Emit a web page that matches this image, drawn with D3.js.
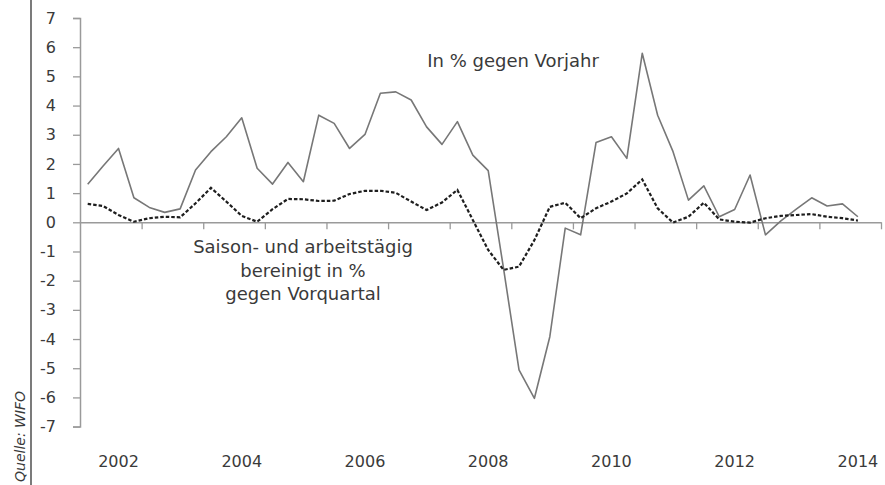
<!DOCTYPE html>
<html>
<head>
<meta charset="utf-8">
<script src="https://cdn.jsdelivr.net/npm/d3@7"></script>
<style>
  body { margin: 0; background: #fff; }
  svg { display: block; }
  text { font-family: "DejaVu Sans", sans-serif; fill: #3a3a3a; }
</style>
</head>
<body>
<div id="output"></div>
<script>
(function () {

"use strict";

// quarters 2002 Q1 .. 2014 Q3
var startYear = 2002
var years = d3.range(2002, 2015)
var yearLabels = [ "2002", "2004", "2006", "2008", "2010", "2012", "2014" ]
var yTicks = [ 7, 6, 5, 4, 3, 2, 1, 0, -1, -2, -3, -4, -5, -6, -7 ]

// In % gegen Vorjahr
var vorjahr = [
  1.30, 1.93, 2.53, 0.84,
  0.51, 0.34, 0.46, 1.79,
  2.42, 2.93, 3.58, 1.85,
  1.31, 2.05, 1.39, 3.67,
  3.39, 2.53, 3.01, 4.42,
  4.47, 4.19, 3.27, 2.67,
  3.45, 2.30, 1.77, -1.60,
  -5.06, -6.03, -3.92, -0.20,
  -0.43, 2.73, 2.93, 2.19,
  5.79, 3.67, 2.42, 0.76,
  1.25, 0.19, 0.44, 1.62,
  -0.43, 0.05, 0.45, 0.84,
  0.56, 0.63, 0.19
]

// Saison- und arbeitstaegig bereinigt in % gegen Vorquartal
var vorquartal = [
  0.63, 0.56, 0.25, 0.02,
  0.14, 0.19, 0.17, 0.65,
  1.18, 0.71, 0.22, 0.02,
  0.45, 0.80, 0.79, 0.73,
  0.74, 0.97, 1.08, 1.08,
  1.01, 0.71, 0.42, 0.68,
  1.11, 0.08, -0.95, -1.63,
  -1.52, -0.61, 0.53, 0.67,
  0.14, 0.48, 0.71, 0.99,
  1.47, 0.48, -0.01, 0.19,
  0.67, 0.10, 0.02, -0.01,
  0.14, 0.22, 0.25, 0.28,
  0.19, 0.14, 0.06
]

var width = 885
  , height = 485
  , left = 80
  , right = 881
  , top = 18
  , bottom = 426.6

var svg = d3.select("#output").append("svg").attr("width", width).attr("height", height)

var x = d3.scaleLinear().domain([0, years.length * 4]).range([left, right])
var y = d3.scaleLinear().domain([-7, 7]).range([bottom, top])

// source line on the left
svg.append("line")
  .attr("x1", 31).attr("x2", 31).attr("y1", 0).attr("y2", height)
  .style("stroke", "#333").style("stroke-width", 1.3)

svg.append("text")
  .attr("transform", "translate(25," + (height - 3) + ") rotate(-90)")
  .style("font-size", "14px").style("font-style", "italic")
  .text("Quelle: WIFO")

// y axis
var yAxis = d3.axisLeft(y).tickValues(yTicks).tickSize(7).tickPadding(17).tickFormat(d3.format("d"))
var gy = svg.append("g").attr("transform", "translate(" + left + ",0)").call(yAxis)
gy.select(".domain").style("stroke", "#9a9a9a").style("stroke-width", 1.5)
gy.selectAll(".tick line").style("stroke", "#9a9a9a").style("stroke-width", 1.3)
gy.selectAll(".tick text").style("font-size", "16px").style("font-family", "DejaVu Sans, sans-serif").style("fill", "#3a3a3a")
  .text(function (d) { return d < 0 ? "-" + Math.abs(d) : d })

// zero line with year ticks
var gx = svg.append("g").attr("transform", "translate(0," + y(0) + ")")
  .call(d3.axisBottom(x).tickValues(d3.range(4, years.length * 4 + 1, 4)).tickSize(7).tickSizeOuter(0).tickFormat(""))
gx.select(".domain").style("stroke", "#9a9a9a").style("stroke-width", 1.5)
gx.selectAll(".tick line").style("stroke", "#9a9a9a").style("stroke-width", 1.3)

// year labels
svg.selectAll("text.year").data(yearLabels).enter().append("text")
  .attr("class", "year")
  .attr("x", function (d) { return x((+d - startYear) * 4 + 2.5) })
  .attr("y", 467)
  .attr("text-anchor", "middle")
  .style("font-size", "16px")
  .text(function (d) { return d })

var line = d3.line()
  .x(function (d, i) { return x(i + 0.5) })
  .y(function (d) { return y(d) })

svg.append("path").datum(vorjahr)
  .attr("d", line)
  .style("fill", "none").style("stroke", "#777").style("stroke-width", 1.6)
  .style("stroke-linejoin", "round")

svg.append("path").datum(vorquartal)
  .attr("d", line)
  .style("fill", "none").style("stroke", "#1e1e1e").style("stroke-width", 2.2)
  .style("stroke-dasharray", "3.5,2")

// annotations
svg.append("text")
  .attr("x", 513).attr("y", 67)
  .attr("text-anchor", "middle")
  .style("font-size", "18px")
  .text("In % gegen Vorjahr")

var note = [ "Saison- und arbeitstägig", "bereinigt in %", "gegen Vorquartal" ]
svg.selectAll("text.note").data(note).enter().append("text")
  .attr("class", "note")
  .attr("x", 303)
  .attr("y", function (d, i) { return 253 + i * 23.5 })
  .attr("text-anchor", "middle")
  .style("font-size", "18px")
  .text(function (d) { return d })

}())
</script>
</body>
</html>
